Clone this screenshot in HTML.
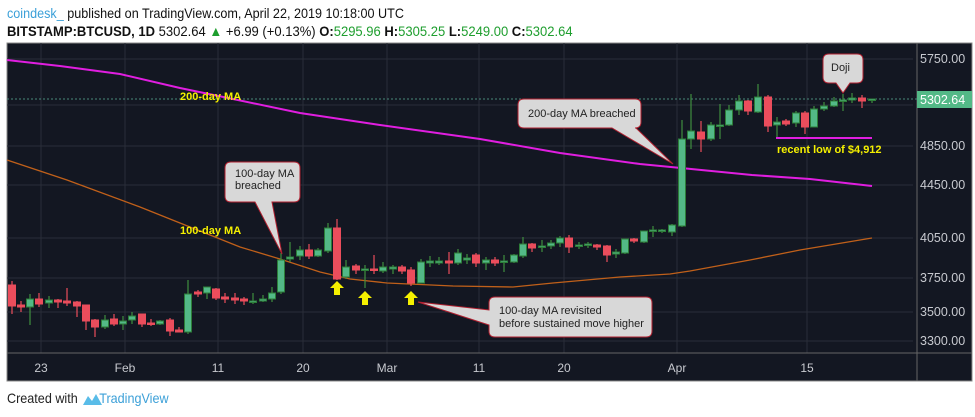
<!DOCTYPE html>
<html><head><meta charset="utf-8">
<style>
html,body{margin:0;padding:0;background:#fff;width:975px;height:417px;overflow:hidden;font-family:"Liberation Sans",sans-serif;}
.h1{position:absolute;left:7px;top:5px;font-size:14px;color:#111;white-space:nowrap;transform-origin:0 0;transform:scaleX(0.9);}
.h2{position:absolute;left:7px;top:23px;font-size:14px;color:#111;white-space:nowrap;transform-origin:0 0;transform:scaleX(0.93);}
.g{color:#1e9e2e}
.foot{position:absolute;left:7px;top:390px;font-size:14px;color:#222;white-space:nowrap;transform-origin:0 0;transform:scaleX(0.9);}
</style></head><body>
<div class="h1"><span style="color:#3ca0d8">coindesk_</span> published on TradingView.com, April 22, 2019 10:18:00 UTC</div>
<div class="h2"><b>BITSTAMP:BTCUSD, 1D</b> 5302.64 <span class="g">▲</span> +6.99 (+0.13%) <b>O:</b><span class="g">5295.96</span> <b>H:</b><span class="g">5305.25</span> <b>L:</b><span class="g">5249.00</span> <b>C:</b><span class="g">5302.64</span></div>
<svg id="c" width="975" height="417" style="position:absolute;left:0;top:0" xmlns="http://www.w3.org/2000/svg" font-family="Liberation Sans, sans-serif">
<rect x="7" y="43" width="965" height="338" fill="#131722" stroke="#888" stroke-width="1"/>
<g stroke="#2a2e39" stroke-width="1">
<line x1="7" x2="913" y1="59" y2="59"/><line x1="7" x2="913" y1="105" y2="105"/><line x1="7" x2="913" y1="146" y2="146"/><line x1="7" x2="913" y1="185" y2="185"/><line x1="7" x2="913" y1="238" y2="238"/><line x1="7" x2="913" y1="278" y2="278"/><line x1="7" x2="913" y1="312" y2="312"/><line x1="7" x2="913" y1="341" y2="341"/>
<line x1="41" x2="41" y1="43" y2="353"/><line x1="125" x2="125" y1="43" y2="353"/><line x1="218" x2="218" y1="43" y2="353"/><line x1="303" x2="303" y1="43" y2="353"/><line x1="387" x2="387" y1="43" y2="353"/><line x1="479" x2="479" y1="43" y2="353"/><line x1="564" x2="564" y1="43" y2="353"/><line x1="677" x2="677" y1="43" y2="353"/><line x1="807" x2="807" y1="43" y2="353"/>
</g>
<line x1="7" x2="972" y1="353" y2="353" stroke="#666"/>
<line x1="917" x2="917" y1="43" y2="381" stroke="#666"/>
<line x1="7" x2="917" y1="99" y2="99" stroke="#4a8a7a" stroke-dasharray="2,2" stroke-width="1"/>
<polyline fill="none" stroke="#e01ee0" stroke-width="2" points="7,60 60,66 120,74 180,88 233,99 300,113 380,125 480,139 560,153 640,164 681,168 752,175 810,179 872,186"/>
<polyline fill="none" stroke="#c0601a" stroke-width="1.3" points="7,160 67,180 140,207 180,223 240,247 280,259 320,272 350,279 387,283 453,286 513,287 553,283 620,277 670,274 690,271 750,260 800,250 872,238"/>
<g id="candles"></g>
<line x1="776" x2="872" y1="138" y2="138" stroke="#e01ee0" stroke-width="2"/>
<g font-weight="bold" font-size="11" fill="#f5f000">
<text x="180" y="100">200-day MA</text>
<text x="180" y="234">100-day MA</text>
<text x="777" y="153">recent low of $4,912</text>
</g>
<g fill="#f5f000">
<path d="M337,281 l-7,7 h4 v7 h6 v-7 h4 z"/>
<path d="M365,291 l-7,7 h4 v7 h6 v-7 h4 z"/>
<path d="M411,291 l-7,7 h4 v7 h6 v-7 h4 z"/>
</g>
<g fill="#d8d8d8" stroke="#b02030" stroke-width="1">
<path d="M524,99 H635 Q641,99 641,105 V122 Q641,128 635,128 H636 L673,164 L612,128 H524 Q518,128 518,122 V105 Q518,99 524,99 Z"/>
<path d="M231,162 H294 Q300,162 300,168 V196 Q300,202 294,202 H272 L282,254 L255,202 H231 Q225,202 225,196 V168 Q225,162 231,162 Z"/>
<path d="M829,54 H857 Q863,54 863,60 V77 Q863,83 857,83 H850 L843,93 L836,83 H829 Q823,83 823,77 V60 Q823,54 829,54 Z"/>
<path d="M495,297 H646 Q652,297 652,303 V331 Q652,337 646,337 H495 Q489,337 489,331 V325 L418,302 L489,310 V303 Q489,297 495,297 Z"/>
</g>
<g font-size="11" fill="#222">
<text x="528" y="117">200-day MA breached</text>
<text x="235" y="177">100-day MA</text><text x="235" y="189">breached</text>
<text x="831" y="71">Doji</text>
<text x="499" y="314">100-day MA revisited</text><text x="499" y="327">before sustained move higher</text>
</g>
<g font-size="12.5" fill="#c8cad0">
<text x="920" y="63">5750.00</text><text x="920" y="150">4850.00</text><text x="920" y="189">4450.00</text><text x="920" y="242">4050.00</text><text x="920" y="282">3750.00</text><text x="920" y="316">3500.00</text><text x="920" y="345">3300.00</text>
</g>
<rect x="917" y="91" width="55" height="17" fill="#53b987"/>
<text x="920" y="104" font-size="12.5" fill="#fff">5302.64</text>
<g font-size="12" fill="#c8cad0" text-anchor="middle">
<text x="41" y="372">23</text><text x="125" y="372">Feb</text><text x="218" y="372">11</text><text x="303" y="372">20</text><text x="387" y="372">Mar</text><text x="479" y="372">11</text><text x="564" y="372">20</text><text x="677" y="372">Apr</text><text x="807" y="372">15</text>
</g>
<path d="M83,405 l5,-9 4,5 4,-7 6,11 z" fill="#59bce8"/>
</svg>
<div class="foot">Created with <span style="display:inline-block;width:20px"></span><span style="color:#3ca0d8">TradingView</span></div>
<script>
var d=[[12,285,306,281,314,0],[21,305,307,301,312,0],[30,299,307,294,325,1],[39,299,304,293,307,0],[49,300,303,296,308,1],[58,300,302,299,308,0],[67,301,303,288,306,0],[77,302,306,301,317,0],[86,305,321,305,330,0],[95,320,327,319,337,0],[105,320,327,315,329,1],[114,319,324,314,326,0],[123,321,324,316,330,1],[132,316,320,312,324,1],[142,314,324,314,327,0],[151,323,324,319,326,0],[160,321,324,320,325,1],[170,320,331,318,336,0],[179,330,332,327,332,0],[188,294,332,280,334,1],[198,292,294,290,297,0],[207,287,293,287,299,1],[216,289,298,288,300,0],[225,297,299,293,303,0],[235,298,300,293,304,0],[244,299,301,297,305,0],[253,301,302,293,304,1],[263,299,301,295,302,1],[272,293,299,287,302,1],[281,260,292,253,294,1],[290,257,259,242,262,1],[300,250,256,246,260,1],[309,250,256,244,259,0],[318,250,256,248,257,1],[328,228,251,223,253,1],[337,228,279,219,280,0],[346,267,277,260,279,1],[356,266,270,264,274,0],[365,269,270,265,288,1],[374,269,270,255,274,0],[383,267,271,262,273,1],[393,267,269,265,274,1],[402,267,271,265,274,0],[411,270,283,267,286,0],[421,262,283,259,283,1],[430,261,263,256,267,1],[439,261,263,257,265,1],[449,261,263,252,274,0],[458,253,263,249,265,1],[467,258,260,254,264,1],[476,255,263,253,267,0],[486,260,263,257,270,1],[495,260,263,257,266,0],[504,261,262,255,272,1],[514,255,262,254,263,1],[523,244,256,237,258,1],[532,244,248,243,252,0],[542,246,247,240,252,1],[551,243,246,240,249,1],[560,238,243,236,247,1],[569,238,247,235,253,0],[579,245,246,242,249,1],[588,244,245,242,248,1],[597,245,247,244,250,0],[607,246,255,245,262,0],[616,252,254,249,258,1],[625,239,253,239,254,1],[634,239,241,238,243,0],[644,231,242,231,243,1],[653,230,231,226,237,1],[662,230,231,229,233,1],[672,225,232,224,236,1],[682,139,226,120,227,1],[691,131,139,94,149,1],[701,132,139,121,152,0],[711,125,139,122,141,1],[720,125,126,104,139,1],[729,110,125,105,126,1],[739,101,110,95,115,1],[748,101,111,100,115,0],[758,97,112,84,113,1],[768,97,126,95,132,0],[777,122,125,117,139,1],[786,121,124,119,126,0],[796,113,123,111,127,1],[805,113,127,111,134,0],[814,109,127,106,127,1],[824,106,109,102,111,1],[834,101,106,97,107,1],[843,100,101,94,111,1],[852,98,100,93,103,1],[862,98,101,95,108,0],[872,99,100,99,103,1]];
var s='';d.forEach(function(c){var x=c[0],g=c[5];var f=g?'#53b987':'#eb4d5c',st=g?'#2d7d38':'#eb4d5c';var w=g?'#3f8f3f':'#eb4d5c';
s+='<line x1="'+x+'" x2="'+x+'" y1="'+c[3]+'" y2="'+c[4]+'" stroke="'+w+'" stroke-width="1.2"/>';
var h=Math.max(c[2]-c[1],1.5);s+='<rect x="'+(x-3.5)+'" y="'+c[1]+'" width="7" height="'+h+'" fill="'+f+'" stroke="'+st+'" stroke-width="1"/>';});
document.getElementById('candles').innerHTML=s;
</script>
</body></html>
